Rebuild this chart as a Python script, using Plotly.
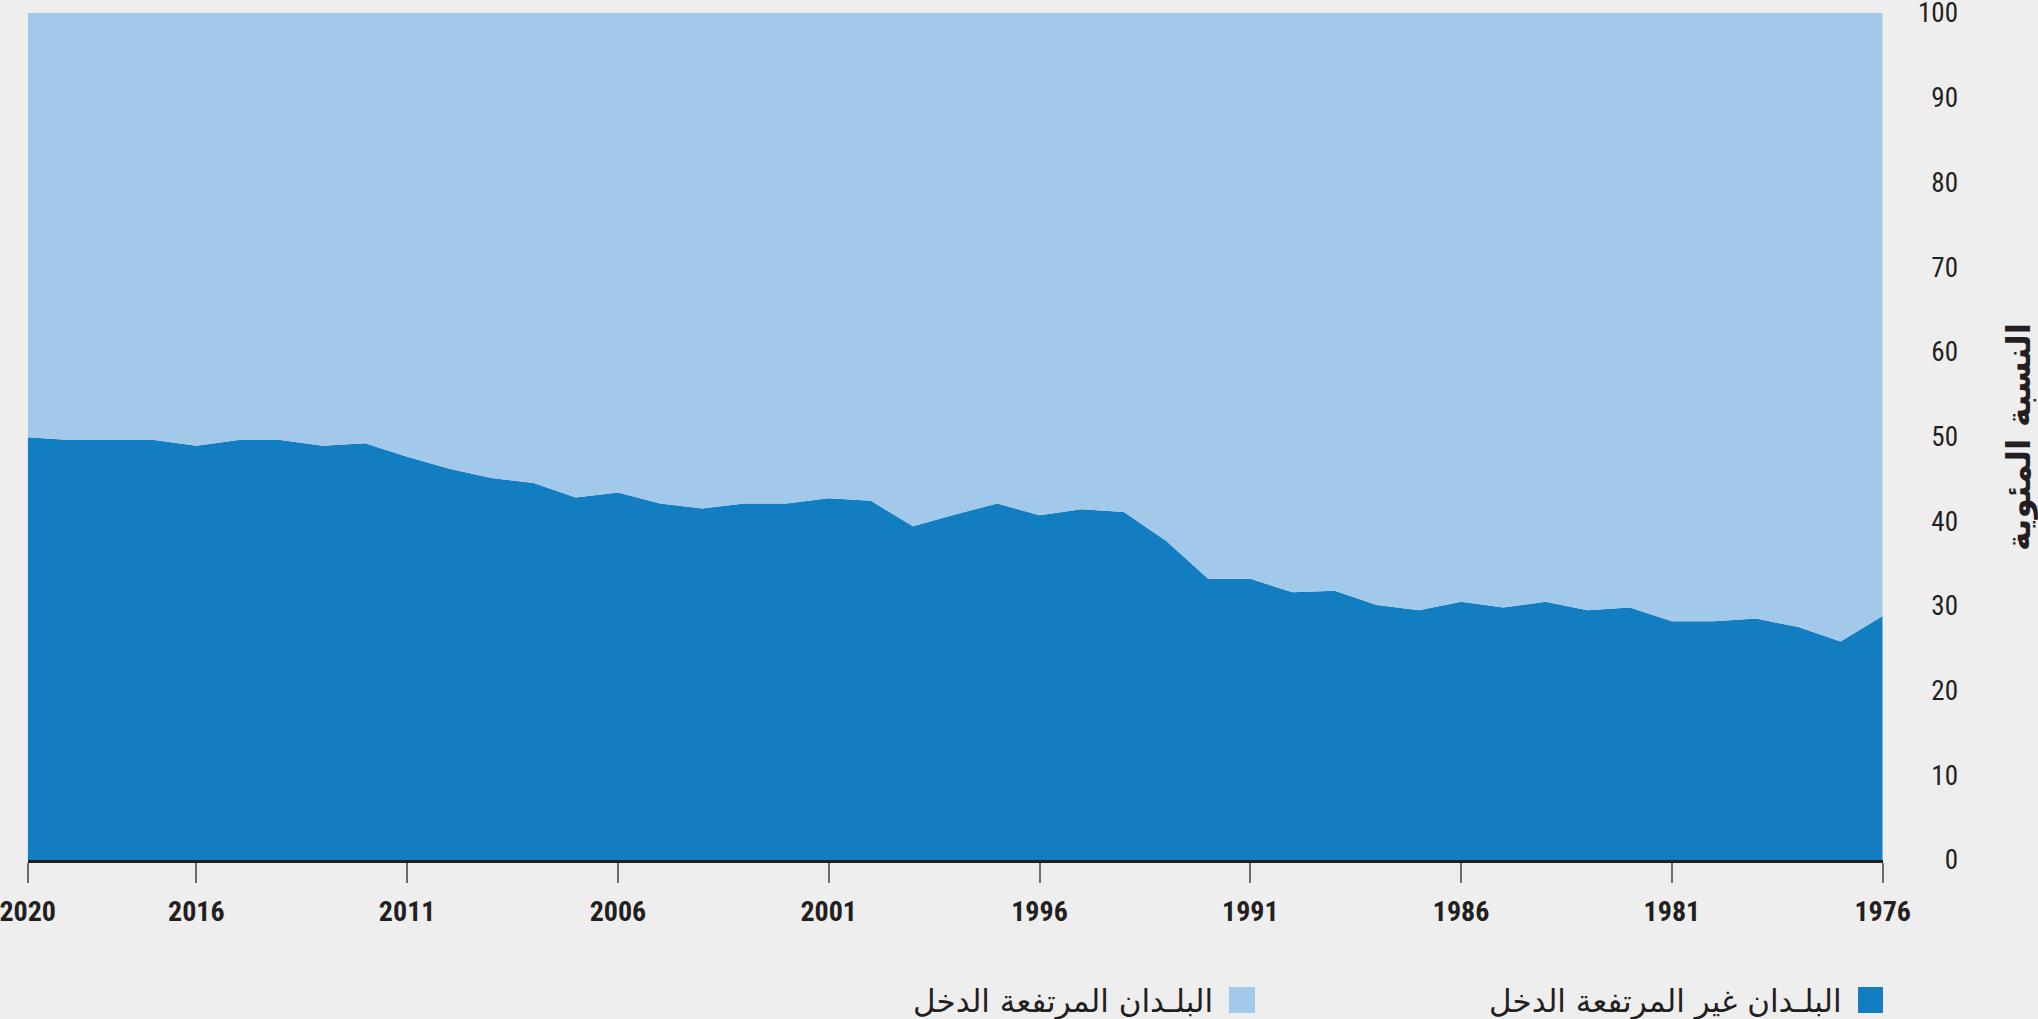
import plotly.graph_objects as go

years = [2020, 2019, 2018, 2017, 2016, 2015, 2014, 2013, 2012, 2011,
         2010, 2009, 2008, 2007, 2006, 2005, 2004, 2003, 2002, 2001,
         2000, 1999, 1998, 1997, 1996, 1995, 1994, 1993, 1992, 1991,
         1990, 1989, 1988, 1987, 1986, 1985, 1984, 1983, 1982, 1981,
         1980, 1979, 1978, 1977, 1976]

non_high_income = [49.9, 49.6, 49.6, 49.6, 48.9, 49.6, 49.6, 48.9, 49.2, 47.6,
                   46.2, 45.1, 44.5, 42.8, 43.4, 42.1, 41.5, 42.1, 42.1, 42.7,
                   42.4, 39.4, 40.8, 42.1, 40.7, 41.4, 41.1, 37.7, 33.2, 33.2,
                   31.6, 31.8, 30.1, 29.5, 30.5, 29.8, 30.5, 29.5, 29.8, 28.2,
                   28.2, 28.5, 27.5, 25.8, 28.8]

high_income = [round(100 - v, 1) for v in non_high_income]

x_tick_vals = [2020, 2016, 2011, 2006, 2001, 1996, 1991, 1986, 1981, 1976]
y_tick_vals = [0, 10, 20, 30, 40, 50, 60, 70, 80, 90, 100]

name_non_high = "البلـدان غير المرتفعة الدخل"
name_high = "البلـدان المرتفعة الدخل"
y_title = "النسبة المئوية"

DARK = "#127ec1"
LIGHT = "#a3c9ea"
BG = "#eeeeee"
INK = "#231f20"

W, H = 2038, 1019
plot_left, plot_right = 27.7, 1882.7
plot_top, plot_bottom = 13.0, 860.0

NUM_FONT = "Roboto Condensed, Liberation Sans Narrow, sans-serif"
AR_FONT = "DejaVu Sans, Noto Sans Arabic, sans-serif"

fig = go.Figure()
fig.add_trace(go.Scatter(
    x=years, y=non_high_income, name=name_non_high,
    mode="lines", line=dict(width=0, color=DARK),
    fillcolor=DARK, stackgroup="one", hoverinfo="skip",
))
fig.add_trace(go.Scatter(
    x=years, y=high_income, name=name_high,
    mode="lines", line=dict(width=0, color=LIGHT),
    fillcolor=LIGHT, stackgroup="one", hoverinfo="skip",
))

fig.update_layout(
    width=W, height=H,
    margin=dict(l=0, r=0, t=0, b=0, autoexpand=False),
    paper_bgcolor=BG, plot_bgcolor=BG,
    showlegend=False,
    xaxis=dict(
        domain=[plot_left / W, plot_right / W],
        range=[2020, 1976],
        tickmode="array", tickvals=x_tick_vals,
        ticktext=[str(v) for v in x_tick_vals],
        showgrid=False, zeroline=False,
        showline=True, linecolor=INK, linewidth=3,
        ticks="outside", ticklen=20, tickwidth=1.5, tickcolor="#6b6b6b",
        tickfont=dict(family=NUM_FONT, size=28, color=INK, weight="bold"),
        ticklabelstandoff=4, automargin=False, ticklabeloverflow="allow",
        fixedrange=True,
    ),
    yaxis=dict(
        domain=[(H - plot_bottom) / H, (H - plot_top) / H],
        range=[0, 100],
        tickmode="array", tickvals=y_tick_vals,
        side="left", anchor="free", position=1958 / W,
        showgrid=False, zeroline=False, showline=False,
        ticks="", ticklen=0, automargin=False, ticklabeloverflow="allow",
        tickfont=dict(family=NUM_FONT, size=27, color=INK),
        fixedrange=True,
    ),
)

# y-axis title
fig.add_annotation(
    x=2019 / W, y=(H - 437) / H, xref="paper", yref="paper",
    text=y_title, textangle=-90, showarrow=False,
    xanchor="center", yanchor="middle",
    font=dict(family=AR_FONT, size=33, color=INK, weight="bold"),
)

# legend (symbol to the right of the text, right-to-left)
legend_items = [
    (name_non_high, DARK, 1858, 1883),
    (name_high, LIGHT, 1229, 1255),
]
for text, color, sx0, sx1 in legend_items:
    fig.add_shape(
        type="rect", xref="paper", yref="paper",
        x0=sx0 / W, x1=sx1 / W, y0=(H - 1013) / H, y1=(H - 987) / H,
        fillcolor=color, line=dict(width=0),
    )
    fig.add_annotation(
        x=(sx0 - 14) / W, y=(H - 1001) / H, xref="paper", yref="paper",
        text=text, showarrow=False, xanchor="right", yanchor="middle",
        font=dict(family=AR_FONT, size=31, color=INK),
    )

fig.write_html("out.html", config={"displayModeBar": False})
